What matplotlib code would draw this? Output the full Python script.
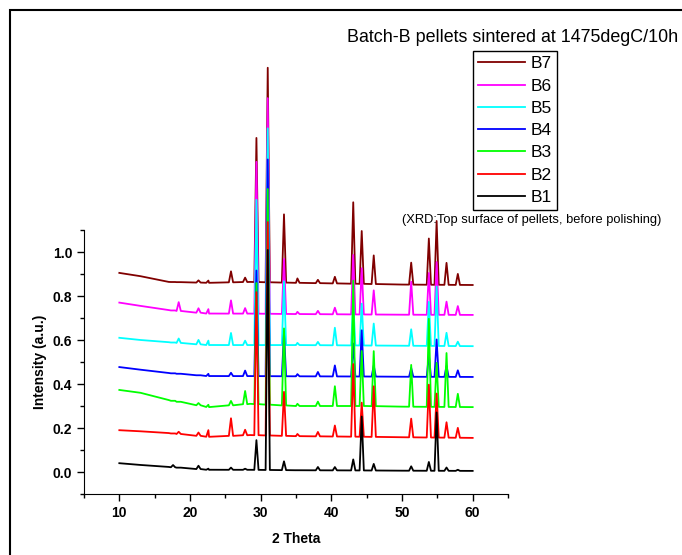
import numpy as np
import matplotlib
matplotlib.use('Agg')
import matplotlib.pyplot as plt
from matplotlib.patches import Rectangle

plt.rcParams['font.family'] = ['Liberation Sans', 'DejaVu Sans']

names = ['B1', 'B2', 'B3', 'B4', 'B5', 'B6', 'B7']
colors = ['black', '#ff0000', '#00ff00', '#0000ff', '#00ffff', '#ff00ff', '#800000']

# background level read at these 2theta values
base_x = [10, 13, 17, 22.7, 28.5, 35, 45, 50, 60]
base = {
    'B1': [0.040, 0.032, 0.023, 0.010, 0.010, 0.008, 0.007, 0.006, 0.005],
    'B2': [0.190, 0.185, 0.177, 0.160, 0.168, 0.163, 0.160, 0.158, 0.155],
    'B3': [0.373, 0.360, 0.327, 0.295, 0.310, 0.300, 0.300, 0.297, 0.295],
    'B4': [0.477, 0.465, 0.450, 0.436, 0.436, 0.435, 0.434, 0.433, 0.432],
    'B5': [0.610, 0.600, 0.590, 0.577, 0.577, 0.577, 0.575, 0.574, 0.572],
    'B6': [0.770, 0.755, 0.736, 0.720, 0.720, 0.718, 0.716, 0.715, 0.714],
    'B7': [0.905, 0.890, 0.864, 0.860, 0.864, 0.860, 0.855, 0.852, 0.850],
}

# peak positions (2theta) and peak heights above background
peak_x = [17.6, 18.4, 21.2, 22.6, 25.8, 27.8, 29.4, 31.0, 33.3, 35.2,
          38.1, 40.5, 43.1, 44.3, 46.0, 51.3, 53.8, 54.9, 56.3, 57.9]
peaks = {
    'B1': [0.01, 0.0, 0.015, 0.005, 0.01, 0.005, 0.135, 1.0, 0.04, 0.0,
           0.015, 0.015, 0.05, 0.245, 0.03, 0.02, 0.04, 0.265, 0.015, 0.005],
    'B2': [0.0, 0.01, 0.015, 0.03, 0.08, 0.025, 0.65, 0.97, 0.2, 0.01,
           0.02, 0.05, 0.33, 0.155, 0.23, 0.085, 0.24, 0.2, 0.07, 0.045],
    'B3': [0.0, 0.0, 0.01, 0.01, 0.02, 0.06, 0.55, 0.98, 0.35, 0.01,
           0.02, 0.09, 0.57, 0.25, 0.25, 0.19, 0.40, 0.2, 0.245, 0.06],
    'B4': [0.0, 0.0, 0.0, 0.01, 0.015, 0.025, 0.48, 0.985, 0.2, 0.01,
           0.02, 0.05, 0.15, 0.21, 0.05, 0.04, 0.1, 0.17, 0.05, 0.03],
    'B5': [0.0, 0.02, 0.02, 0.02, 0.055, 0.02, 0.66, 0.985, 0.29, 0.01,
           0.015, 0.08, 0.2, 0.19, 0.10, 0.075, 0.2, 0.27, 0.06, 0.02],
    'B6': [0.0, 0.04, 0.02, 0.02, 0.06, 0.025, 0.69, 0.98, 0.25, 0.01,
           0.015, 0.03, 0.27, 0.21, 0.11, 0.15, 0.19, 0.24, 0.06, 0.04],
    'B7': [0.0, 0.0, 0.01, 0.01, 0.05, 0.02, 0.655, 0.975, 0.31, 0.02,
           0.015, 0.03, 0.37, 0.24, 0.13, 0.10, 0.21, 0.29, 0.10, 0.05],
}


def trace(name, w=0.3):
    xs = list(base_x)
    ys = list(base[name])
    for p, h in zip(peak_x, peaks[name]):
        b = np.interp(p, base_x, base[name])
        xs += [p - w, p, p + w]
        ys += [b, b + h, b]
    order = np.argsort(xs, kind='stable')
    return np.array(xs)[order], np.array(ys)[order]


fig = plt.figure(figsize=(6.82, 5.55), dpi=100)
ax = fig.add_axes([84 / 682, 61 / 555, 424 / 682, 264 / 555])

lines = {}
for i in range(len(names) - 1, -1, -1):
    x, y = trace(names[i])
    ln, = ax.plot(x, y, color=colors[i], lw=1.3, clip_on=False, label=names[i])
    lines[names[i]] = ln

ax.set_xlim(5, 65)
ax.set_ylim(-0.1, 1.1)
ax.set_xticks([10, 20, 30, 40, 50, 60])
ax.set_xticks([5, 15, 25, 35, 45, 55, 65], minor=True)
ax.set_yticks([0.0, 0.2, 0.4, 0.6, 0.8, 1.0])
ax.set_yticks(np.arange(-0.1, 1.11, 0.2), minor=True)
ax.set_yticklabels(['0.0', '0.2', '0.4', '0.6', '0.8', '1.0'])
ax.tick_params(direction='out', length=5, width=1, labelsize=10)
ax.tick_params(which='minor', direction='out', length=3, width=1)
for lab in ax.get_xticklabels() + ax.get_yticklabels():
    lab.set_fontweight('bold')
ax.spines['top'].set_visible(False)
ax.spines['right'].set_visible(False)
ax.patch.set_visible(False)

ax.set_xlabel('2 Theta', fontsize=10, fontweight='bold', labelpad=9)
ax.set_ylabel('Intensity (a.u.)', fontsize=10, fontweight='bold', labelpad=4)

handles = [lines[n] for n in names[::-1]]
leg = fig.legend(handles=handles, labels=names[::-1], loc='upper left',
                 bbox_to_anchor=(473 / 682, 1 - 51 / 555), borderaxespad=0,
                 fontsize=12.5, labelspacing=0.41, handlelength=2.7,
                 handletextpad=0.3, borderpad=0.3, fancybox=False,
                 frameon=True, framealpha=1)
leg.get_frame().set_edgecolor('black')
leg.get_frame().set_linewidth(1.0)

fig.text(678 / 682, 1 - 38 / 555, 'Batch-B pellets sintered at 1475degC/10h',
         ha='right', va='center', fontsize=12.9)
fig.text(402 / 682, 1 - 220 / 555, '(XRD:Top surface of pellets, before polishing)',
         ha='left', va='center', fontsize=9.3)

fig.patches.append(Rectangle((10 / 682, -0.1), 1.2, 1 - 10 / 555 + 0.1,
                             transform=fig.transFigure, fill=False,
                             edgecolor='black', lw=1.5))

fig.savefig('out.png', dpi=100)
